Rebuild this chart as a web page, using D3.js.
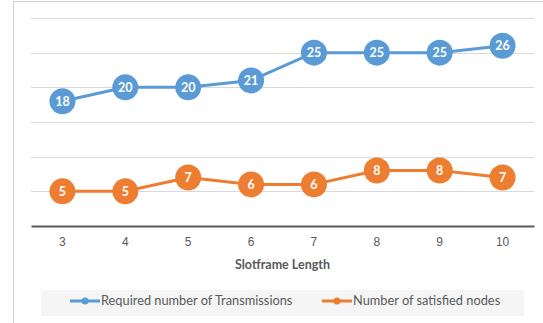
<!DOCTYPE html>
<html>
<head>
<meta charset="utf-8">
<script src="https://cdn.jsdelivr.net/npm/d3@7"></script>
<style>
  html, body { margin: 0; padding: 0; background: #fff; }
  svg { display: block; font-family: Lato, "Open Sans", "Liberation Sans", sans-serif; }
</style>
</head>
<body>
<svg id="chart" width="543" height="323"></svg>
<script>
// Slotframe length categories
const slotframeLengths = ["3", "4", "5", "6", "7", "8", "9", "10"];
// Series values
const requiredTransmissions = [18, 20, 20, 21, 25, 25, 25, 26];
const satisfiedNodes = [5, 5, 7, 6, 6, 8, 8, 7];
// Horizontal gridline values
const gridValues = [5, 10, 15, 20, 25, 30];
const seriesNames = ["Required number of Transmissions", "Number of satisfied nodes"];
const seriesColors = ["#5B9BD5", "#ED7D31"];

const svg = d3.select("#chart");

// chart frame (left and top edges)
svg.append("path")
  .attr("d", "M13.5,323 V1.5 H543")
  .attr("fill", "none")
  .attr("stroke", "#d0d0d0")
  .attr("stroke-width", 1);

const plot = { left: 31, right: 534, top: 18, bottom: 226 };

const x = d3.scaleBand()
  .domain(slotframeLengths)
  .range([plot.left, plot.right]);

const y = d3.scaleLinear()
  .domain([0, 30])
  .range([plot.bottom, plot.top]);

// gridlines
svg.append("g")
  .selectAll("line")
  .data(gridValues)
  .join("line")
  .attr("x1", plot.left)
  .attr("x2", plot.right)
  .attr("y1", d => Math.round(y(d)) + 0.5)
  .attr("y2", d => Math.round(y(d)) + 0.5)
  .attr("stroke", "#d9d9d9")
  .attr("stroke-width", 1);

// x axis
const xAxis = svg.append("g")
  .attr("transform", `translate(0,${plot.bottom})`)
  .call(d3.axisBottom(x).tickSize(0).tickPadding(11));
xAxis.select(".domain").attr("stroke", "#595959").attr("stroke-width", 2);
xAxis.selectAll("text")
  .attr("fill", "#595959")
  .style("font-size", "12px");

// axis title
svg.append("text")
  .attr("x", (plot.left + plot.right) / 2)
  .attr("y", 269)
  .attr("text-anchor", "middle")
  .attr("fill", "#595959")
  .style("font-size", "12.5px")
  .style("font-weight", "bold")
  .text("Slotframe Length");

const cx = d => x(d) + x.bandwidth() / 2;

function drawSeries(values, color) {
  const pts = slotframeLengths.map((c, i) => ({ c, v: values[i] }));
  svg.append("path")
    .datum(pts)
    .attr("fill", "none")
    .attr("stroke", color)
    .attr("stroke-width", 3)
    .attr("stroke-linejoin", "round")
    .attr("d", d3.line().x(d => cx(d.c)).y(d => y(d.v)));
  const g = svg.append("g");
  g.selectAll("circle")
    .data(pts)
    .join("circle")
    .attr("cx", d => cx(d.c))
    .attr("cy", d => y(d.v))
    .attr("r", 13)
    .attr("fill", color);
  g.selectAll("text")
    .data(pts)
    .join("text")
    .attr("x", d => cx(d.c))
    .attr("y", d => y(d.v))
    .attr("dy", "0.36em")
    .attr("text-anchor", "middle")
    .attr("fill", "#fff")
    .style("font-size", "12.5px")
    .style("font-weight", "bold")
    .text(d => d.v);
}

drawSeries(requiredTransmissions, seriesColors[0]);
drawSeries(satisfiedNodes, seriesColors[1]);

// legend
svg.append("rect")
  .attr("x", 41).attr("y", 290)
  .attr("width", 483).attr("height", 26)
  .attr("fill", "#f5f5f5");

const legendX = [70, 322];
const legend = svg.append("g")
  .selectAll("g")
  .data(seriesNames)
  .join("g")
  .attr("transform", (d, i) => `translate(${legendX[i]},301)`);
legend.append("line")
  .attr("x1", 0).attr("x2", 30)
  .attr("stroke", (d, i) => seriesColors[i])
  .attr("stroke-width", 3);
legend.append("circle")
  .attr("cx", 15).attr("r", 3.5)
  .attr("fill", (d, i) => seriesColors[i]);
legend.append("text")
  .attr("x", 31)
  .attr("dy", "0.35em")
  .attr("fill", "#595959")
  .style("font-size", "12.8px")
  .text(d => d);
</script>
</body>
</html>
